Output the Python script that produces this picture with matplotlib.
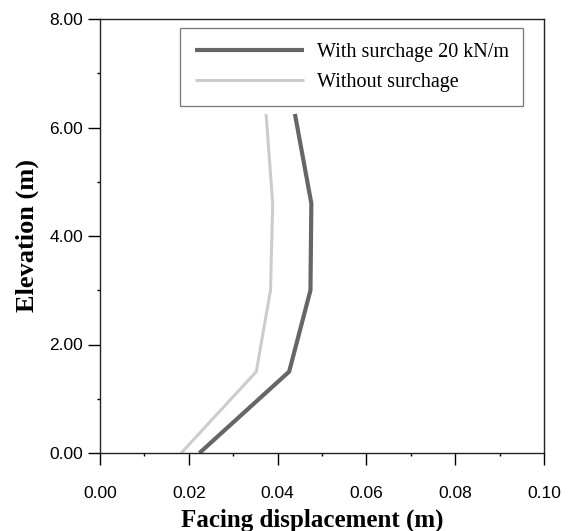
import numpy as np
import matplotlib
matplotlib.use('Agg')
import matplotlib.pyplot as plt
from matplotlib.ticker import MultipleLocator, FormatStrFormatter

# --------------------------------------------------------------------
# -- DONNEES
# --------------------------------------------------------------------
elevation = [0.0, 1.5, 3.0, 4.6, 6.25]
with_surcharge = [0.0224, 0.0426, 0.0474, 0.0476, 0.0439]
without_surcharge = [0.0183, 0.0352, 0.0384, 0.0389, 0.0374]

label_with = 'With surchage 20 kN/m'
label_without = 'Without surchage'

serif = 'Liberation Serif'
sans = 'Liberation Sans'

# --------------------------------------------------------------------
# -- FIGURE
# --------------------------------------------------------------------
fig = plt.figure(figsize=(5.74, 5.31), dpi=100)
ax = fig.add_axes([100 / 574, (531 - 453) / 531, 444 / 574, 434 / 531])

ax.plot(with_surcharge, elevation, color='#666666', lw=3.0,
        label=label_with, solid_capstyle='butt')
ax.plot(without_surcharge, elevation, color='#cccccc', lw=2.2,
        label=label_without, solid_capstyle='butt')

ax.set(xlim=(0, 0.10), ylim=(0, 8))
ax.xaxis.set_major_locator(MultipleLocator(0.02))
ax.xaxis.set_minor_locator(MultipleLocator(0.01))
ax.yaxis.set_major_locator(MultipleLocator(2))
ax.yaxis.set_minor_locator(MultipleLocator(1))
ax.xaxis.set_major_formatter(FormatStrFormatter('%.2f'))
ax.yaxis.set_major_formatter(FormatStrFormatter('%.2f'))

ax.tick_params(which='major', direction='out', length=8.5, width=1.0,
               top=False, right=False, labelsize=12.5,
               labelfontfamily=sans)
ax.tick_params(which='minor', direction='out', length=2.5, width=1.0,
               top=False, right=False)
ax.tick_params(axis='x', which='major', pad=15)
ax.tick_params(axis='y', which='major', pad=3.6)

for sp in ax.spines.values():
    sp.set_linewidth(1.0)
    sp.set_color('#222222')

# noms des axes
ax.set_xlabel('Facing displacement (m)', fontsize=18, fontweight='bold',
              family=serif, va='center')
ax.xaxis.set_label_coords(0.478, -0.154)
ax.set_ylabel('Elevation (m)', fontsize=19, fontweight='bold',
              family=serif, va='center')
ax.yaxis.set_label_coords(-0.164, 0.5)

# légende
leg = ax.legend(loc='upper right', bbox_to_anchor=(0.953, 0.979),
                borderaxespad=0, fancybox=False, frameon=True,
                edgecolor='#555555', handlelength=5.4, handletextpad=0.65,
                borderpad=0.72, labelspacing=0.55,
                prop={'family': serif, 'size': 14.5})
leg.get_frame().set_linewidth(0.9)

plt.savefig('out.png', dpi=100)
